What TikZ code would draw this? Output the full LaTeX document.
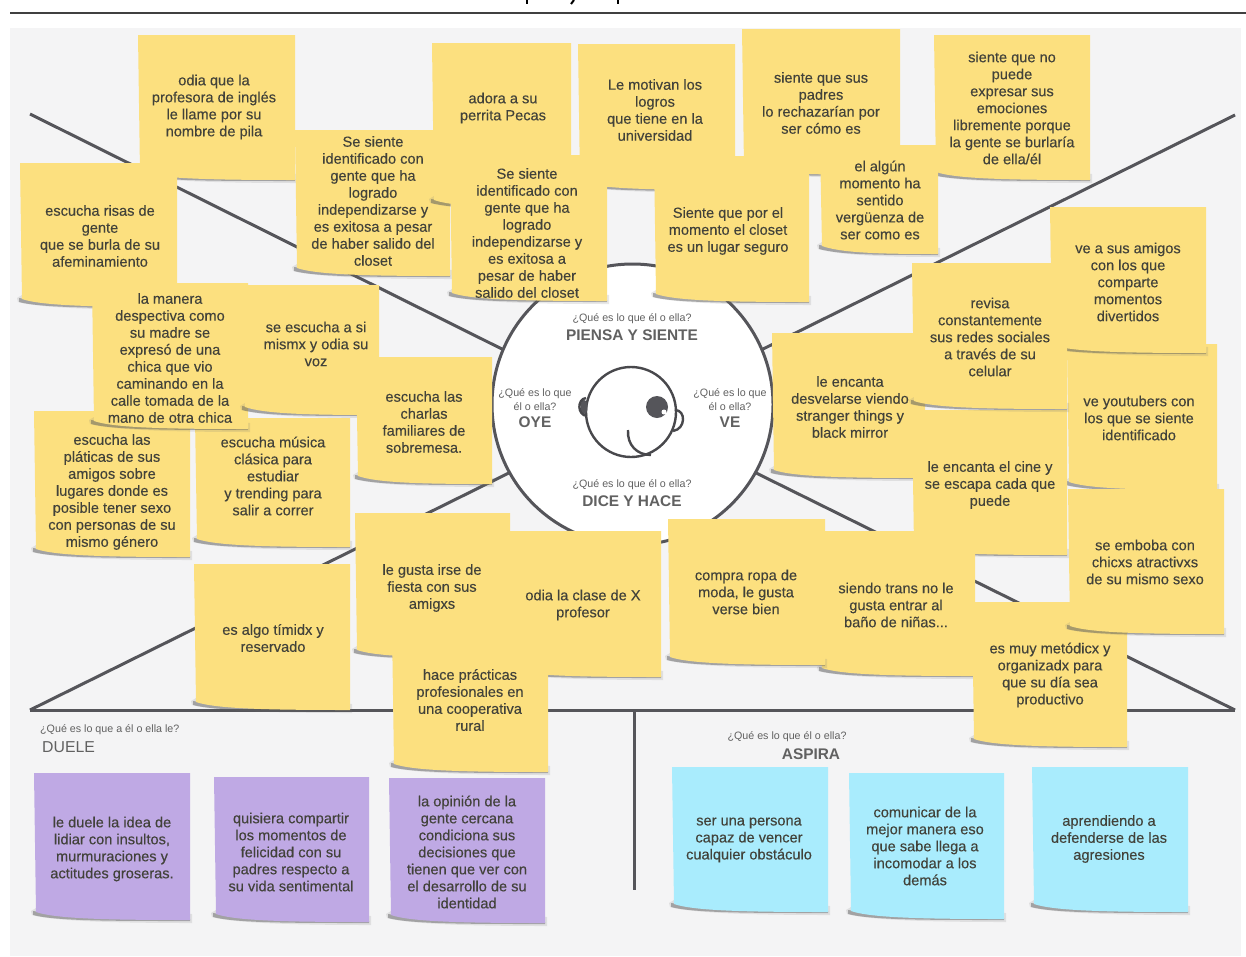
\documentclass[tikz,border=0pt]{standalone}
\usepackage{fontspec}
\setmainfont{Liberation Sans}
\newfontfamily\notefont[FakeBold=0.25]{Liberation Sans}
\definecolor{noteyellow}{HTML}{FCE07F}
\definecolor{notepurple}{HTML}{BFA9E4}
\definecolor{noteblue}{HTML}{A9ECFD}
\definecolor{paper}{HTML}{F4F4F5}
\definecolor{rule}{HTML}{55555A}
\definecolor{ink}{HTML}{42423A}
\tikzset{
  notetext/.style={align=center, text=ink, inner sep=0pt, yshift=-1pt, font=\notefont\fontsize{14.6}{17}\selectfont},
  asklabel/.style={align=center, text=black!62, inner sep=0pt, font=\fontsize{10.7}{14}\selectfont},
  zonelabel/.style={align=center, text=black!62, inner sep=0pt, font=\fontsize{15.4}{17}\selectfont\bfseries},
  spoke/.style={draw=rule, line width=3pt},
  facepen/.style={draw=rule!85!black, line width=2.4pt},
}
% sticky note: colour, left, top, right, bottom
\newcommand{\sticky}[5]{
  \fill[black!55, opacity=0.16] (#2-3,#5-9) -- (#2+2,#5-12) -- (#4+2,#5-6) -- (#4+2,#5+3) .. controls (#2*0.5+#4*0.5,#5+3) and (#2+20,#5+1) .. (#2-2,#5-5) -- cycle;
  \fill[black!65, opacity=0.45] (#2-1,#5-9) -- (#2+20,#5-6) -- (#4,#5-1) -- (#4,#5+1) .. controls (#2*0.5+#4*0.5,#5+1) and (#2+22,#5+1) .. (#2-1,#5-5) -- cycle;
  \fill[#1] (#2,#3) -- (#4,#3) -- (#4,#5) .. controls (#2*0.5+#4*0.5,#5) and (#2+22,#5-1) .. (#2+2,#5-8) -- cycle;
}

\begin{document}
\begin{tikzpicture}[x=1pt,y=-1pt]
\useasboundingbox (0,0) rectangle (1246,956);
\fill[white] (0,0) rectangle (1246,956);
\fill[paper] (10,28) rectangle (1241,956);

% title rule, and what is left of the cut title
\draw[black!75, line width=1.1pt] (10,13) -- (1246,13);
\draw[black, line width=2pt] (527,0) -- (527,4);
\draw[black, line width=2pt] (574,0) -- (571,4);
\draw[black, line width=2pt] (618,0) -- (618,4);

% the map
\node[circle, draw=rule, fill=white, line width=3pt, minimum size=281pt, inner sep=0pt, outer sep=0pt] (hub) at (632.5,404.5) {};
\coordinate (upleft) at (30,114);
\coordinate (upright) at (1235,115);
\coordinate (lowleft) at (30,710);
\coordinate (lowright) at (1235,710);
\coordinate (stemtop) at (634,710);
\coordinate (stemend) at (634,890);
\draw[spoke] (upleft) -- (hub.157);
\draw[spoke] (upright) -- (hub.23);
\draw[spoke] (lowleft) -- (hub.209);
\draw[spoke] (lowright) -- (hub.-29);
\draw[spoke] (lowleft) -- (lowright);
\draw[spoke] (stemtop) -- (stemend);

% the face
\node[circle, facepen, fill=white, minimum size=90pt, inner sep=0pt] (face) at (631,412) {};
\fill[rule] (584,407) ellipse (3.5pt and 7pt);
\draw[facepen] (586,398) .. controls (577,399) and (577,415) .. (587,416);
\draw[facepen] (675,410) .. controls (686,410) and (686,429) .. (673,431);
\fill[rule] (657,407) circle (11pt);
\fill[white] (664,412) circle (2.5pt);
\draw[facepen] (628,430) .. controls (627,445) and (637,455) .. (651,455);

% labels of the map
\node[asklabel] (piensaask) at (632,319) {¿Qué es lo que él o ella?};
\node[zonelabel] (piensa) at (632,335) {PIENSA Y SIENTE};
\node[asklabel] (oyeask) at (535,400) {¿Qué es lo que\\él o ella?};
\node[zonelabel] (oye) at (535,422) {OYE};
\node[asklabel] (veask) at (730,400) {¿Qué es lo que\\él o ella?};
\node[zonelabel] (ve) at (730,422) {VE};
\node[asklabel] (diceask) at (632,485) {¿Qué es lo que él o ella?};
\node[zonelabel] (dice) at (632,501) {DICE Y HACE};
\node[asklabel, anchor=west] (dueleask) at (40,730) {¿Qué es lo que a él o ella le?};
\node[zonelabel, anchor=west, font=\fontsize{15.8}{17}\selectfont] (duele) at (42,747) {DUELE};
\node[asklabel] (aspiraask) at (787,737) {¿Qué es lo que él o ella?};
\node[zonelabel] (aspira) at (811,754) {ASPIRA};

% top notes
\sticky{noteyellow}{138}{35}{295}{180}
\node[notetext] (odia) at (214,106) {odia que la\\profesora de inglés\\le llame por su\\nombre de pila};
\sticky{noteyellow}{295}{130}{450}{276}
\node[notetext] (gente1) at (373,200) {Se siente\\identificado con\\gente que ha\\logrado\\independizarse y\\es exitosa a pesar\\de haber salido del\\closet};
\sticky{noteyellow}{432}{43}{571}{208}
\node[notetext] (perrita) at (503,107) {adora a su\\perrita Pecas};
\sticky{noteyellow}{578}{44}{735}{190}
\node[notetext] (logros) at (655,109) {Le motivan los\\logros\\que tiene en la\\universidad};
\sticky{noteyellow}{742}{29}{900}{175}
\node[notetext] (padres) at (821,102) {siente que sus\\padres\\lo rechazarían por\\ser cómo es};
\sticky{noteyellow}{934}{35}{1090}{180}
\node[notetext] (burla) at (1012,107) {siente que no\\puede\\expresar sus\\emociones\\libremente porque\\la gente se burlaría\\de ella/él};
\sticky{noteyellow}{450}{155}{607}{301}
\node[notetext] (gente2) at (527,232) {Se siente\\identificado con\\gente que ha\\logrado\\independizarse y\\es exitosa a\\pesar de haber\\salido del closet};
\sticky{noteyellow}{654}{156}{809}{302}
\node[notetext] (closet) at (728,230) {Siente que por el\\momento el closet\\es un lugar seguro};
\sticky{noteyellow}{820}{145}{938}{254}
\node[notetext] (verguenza) at (880,199) {el algún\\momento ha\\sentido\\vergüenza de\\ser como es};

% left notes
\sticky{noteyellow}{20}{163}{177}{307}
\node[notetext] (risas) at (100,235) {escucha risas de\\gente\\que se burla de su\\afeminamiento};
\sticky{noteyellow}{34}{411}{190}{557}
\node[notetext] (platicas) at (112,491) {escucha las\\pláticas de sus\\amigos sobre\\lugares donde es\\posible tener sexo\\con personas de su\\mismo género};
\sticky{noteyellow}{195}{418}{350}{547}
\node[notetext] (musica) at (273,475) {escucha música\\clásica para\\estudiar\\y trending para\\salir a correr};
\sticky{noteyellow}{92}{283}{248}{429}
\node[notetext] (manera) at (170,357) {la manera\\despectiva como\\su madre se\\expresó de una\\chica que vio\\caminando en la\\calle tomada de la\\mano de otra chica};
\sticky{noteyellow}{243}{285}{379}{415}
\node[notetext] (voz) at (316,343) {se escucha a si\\mismx y odia su\\voz};
\sticky{noteyellow}{356}{357}{492}{484}
\node[notetext] (charlas) at (424,421) {escucha las\\charlas\\familiares de\\sobremesa.};

% right notes
\sticky{noteyellow}{772}{333}{925}{478}
\node[notetext] (stranger) at (850,406) {le encanta\\desvelarse viendo\\stranger things y\\black mirror};
\sticky{noteyellow}{1067}{344}{1217}{490}
\node[notetext] (youtubers) at (1139,417) {ve youtubers con\\los que se siente\\identificado};
\sticky{noteyellow}{1050}{207}{1206}{353}
\node[notetext] (amigos) at (1128,281) {ve a sus amigos\\con los que\\comparte\\momentos\\divertidos};
\sticky{noteyellow}{912}{410}{1067}{555}
\node[notetext] (cine) at (990,484) {le encanta el cine y\\se escapa cada que\\puede};
\sticky{noteyellow}{912}{263}{1067}{409}
\node[notetext] (redes) at (990,336) {revisa\\constantemente\\sus redes sociales\\a través de su\\celular};

% bottom notes
\sticky{noteyellow}{194}{564}{350}{710}
\node[notetext] (timidx) at (273,637) {es algo tímidx y\\reservado};
\sticky{noteyellow}{355}{513}{510}{658}
\node[notetext] (fiesta) at (432,587) {le gusta irse de\\fiesta con sus\\amigxs};
\sticky{noteyellow}{505}{531}{661}{677}
\node[notetext] (clase) at (583,604) {odia la clase de X\\profesor};
\sticky{noteyellow}{820}{531}{975}{676}
\node[notetext] (trans) at (896,604) {siendo trans no le\\gusta entrar al\\baño de niñas...};
\sticky{noteyellow}{668}{519}{825}{665}
\node[notetext] (ropa) at (746,591) {compra ropa de\\moda, le gusta\\verse bien};
\sticky{noteyellow}{392}{627}{548}{772}
\node[notetext] (practicas) at (470,699) {hace prácticas\\profesionales en\\una cooperativa\\rural};
\sticky{noteyellow}{972}{602}{1127}{747}
\node[notetext] (metodicx) at (1050,674) {es muy metódicx y\\organizadx para\\que su día sea\\productivo};
\sticky{noteyellow}{1068}{489}{1224}{634}
\node[notetext] (emboba) at (1145,561) {se emboba con\\chicxs atractivxs\\de su mismo sexo};

% duele
\sticky{notepurple}{34}{773}{190}{920}
\node[notetext] (insultos) at (112,848) {le duele la idea de\\lidiar con insultos,\\murmuraciones y\\actitudes groseras.};
\sticky{notepurple}{214}{777}{369}{922}
\node[notetext] (felicidad) at (291,851) {quisiera compartir\\los momentos de\\felicidad con su\\padres respecto a\\su vida sentimental};
\sticky{notepurple}{389}{778}{545}{923}
\node[notetext] (opinion) at (467,851) {la opinión de la\\gente cercana\\condiciona sus\\decisiones que\\tienen que ver con\\el desarrollo de su\\identidad};

% aspira
\sticky{noteblue}{672}{767}{828}{912}
\node[notetext] (vencer) at (749,839) {ser una persona\\capaz de vencer\\cualquier obstáculo};
\sticky{noteblue}{849}{773}{1004}{919}
\node[notetext] (comunicar) at (925,845) {comunicar de la\\mejor manera eso\\que sabe llega a\\incomodar a los\\demás};
\sticky{noteblue}{1032}{767}{1188}{912}
\node[notetext] (defenderse) at (1109,838) {aprendiendo a\\defenderse de las\\agresiones};

\end{tikzpicture}
\end{document}
